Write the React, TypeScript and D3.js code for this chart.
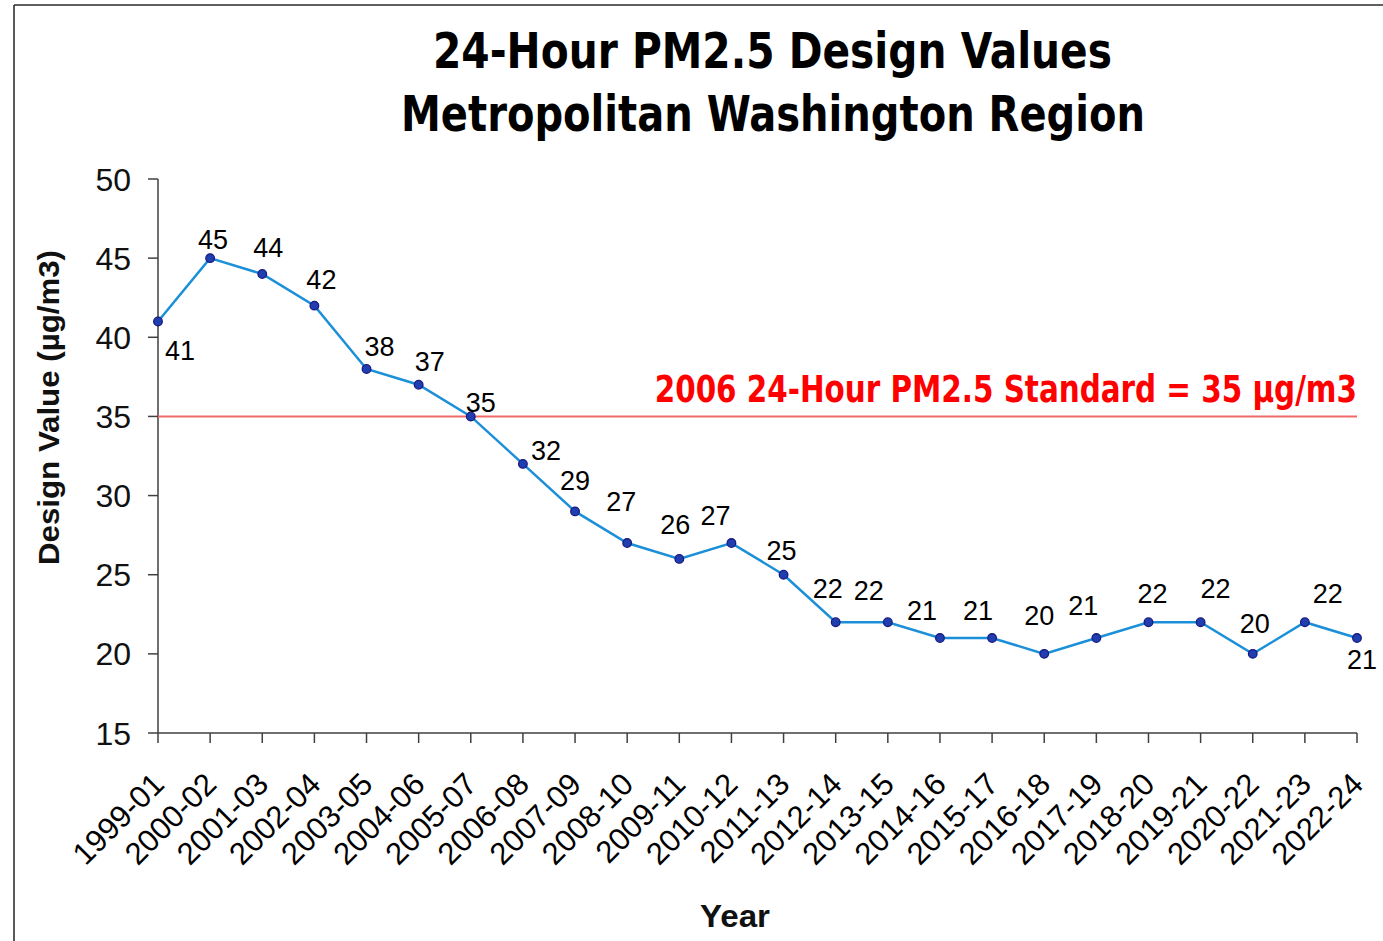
import React from "react";
import * as d3 from "d3";

const categories = ["1999-01","2000-02","2001-03","2002-04","2003-05","2004-06","2005-07","2006-08","2007-09","2008-10","2009-11","2010-12","2011-13","2012-14","2013-15","2014-16","2015-17","2016-18","2017-19","2018-20","2019-21","2020-22","2021-23","2022-24"];
const designValues = [41,45,44,42,38,37,35,32,29,27,26,27,25,22,22,21,21,20,21,22,22,20,22,21];
const yTicks = [15,20,25,30,35,40,45,50];
const standardValue = 35;

// label offsets (layout), px relative to the point
const labelDx = [22,3,6,7,13,11,10,23,0,-6,-4,-16,-2,-8,-19,-18,-14,-5,-13,4,15,2,23,5];
const labelDy = [29,-19,-27,-26,-23,-23,-14,-14,-31,-42,-35,-28,-24,-34,-32,-28,-28,-39,-33,-29,-34,-31,-29,21];

const W = 1383, H = 941;
const narrow = "'Liberation Sans Narrow', 'DejaVu Sans Condensed', 'Liberation Sans', Arial, sans-serif";
const sans = "'Liberation Sans', Arial, sans-serif";

export default function App() {
  const x = d3.scalePoint<string>().domain(categories).range([158, 1357]);
  const y = d3.scaleLinear().domain([15, 50]).range([733, 179]);
  const line = d3.line<number>().x((_, i) => x(categories[i])!).y((d) => y(d));
  const x0 = 158, x1 = 1357, yb = y(15), yt = y(50);

  return (
    <svg width={W} height={H} style={{ position: "absolute", left: 0, top: 0, display: "block" }}>
      <rect x={0} y={0} width={W} height={H} fill="#fff" />
      <line x1={14} y1={5} x2={W} y2={5} stroke="#606060" strokeWidth={2} />
      <line x1={14} y1={5} x2={14} y2={H} stroke="#222" strokeWidth={1.5} />

      <text x={772.5} y={68} textAnchor="middle" textLength={679} lengthAdjust="spacingAndGlyphs" fontFamily={narrow} fontWeight="bold" fontSize={50} fill="#000">24-Hour PM2.5 Design Values</text>
      <text x={773} y={131} textAnchor="middle" textLength={744} lengthAdjust="spacingAndGlyphs" fontFamily={narrow} fontWeight="bold" fontSize={50} fill="#000">Metropolitan Washington Region</text>

      {/* axes */}
      <line x1={x0} y1={yt} x2={x0} y2={yb} stroke="#404040" strokeWidth={1.5} />
      <line x1={x0} y1={yb} x2={x1} y2={yb} stroke="#404040" strokeWidth={1.5} />
      {yTicks.map((t) => (
        <g key={t}>
          <line x1={x0 - 10} y1={y(t)} x2={x0} y2={y(t)} stroke="#404040" strokeWidth={1.5} />
          <text x={131} y={y(t)} dy="0.36em" textAnchor="end" fontFamily={sans} fontSize={32} fill="#111">{t}</text>
        </g>
      ))}
      {categories.map((c) => (
        <g key={c}>
          <line x1={x(c)} y1={yb} x2={x(c)} y2={yb + 10} stroke="#404040" strokeWidth={1.5} />
          <text transform={`translate(${x(c)! + 8},${786}) rotate(-45)`} textAnchor="end" fontFamily={sans} fontSize={31} fill="#000">{c}</text>
        </g>
      ))}

      <text transform={`translate(59,407.5) rotate(-90)`} textAnchor="middle" textLength={315} lengthAdjust="spacingAndGlyphs" fontFamily={sans} fontWeight="bold" fontSize={29} fill="#111">Design Value (µg/m3)</text>
      <text x={735} y={927} textAnchor="middle" textLength={70} lengthAdjust="spacingAndGlyphs" fontFamily={sans} fontWeight="bold" fontSize={32} fill="#111">Year</text>

      {/* standard */}
      <line x1={x0} y1={y(standardValue)} x2={x1} y2={y(standardValue)} stroke="#f06a6a" strokeWidth={2} />
      <text transform={`translate(1357,402) scale(0.884,1)`} textAnchor="end" fontFamily={narrow} fontWeight="bold" fontSize={37} fill="#ff0000">2006 24-Hour PM2.5 Standard = 35 µg/m3</text>

      <path d={line(designValues)!} fill="none" stroke="#1b8fd8" strokeWidth={2.5} />
      {designValues.map((v, i) => (
        <circle key={i} cx={x(categories[i])} cy={y(v)} r={4.3} fill="#1f3fb0" stroke="#1a1a80" strokeWidth={1.3} />
      ))}
      {designValues.map((v, i) => (
        <text key={"l" + i} x={x(categories[i])! + labelDx[i]} y={y(v) + labelDy[i]} dy="0.36em" textAnchor="middle" fontFamily={sans} fontSize={27} fill="#000">{v}</text>
      ))}
    </svg>
  );
}
